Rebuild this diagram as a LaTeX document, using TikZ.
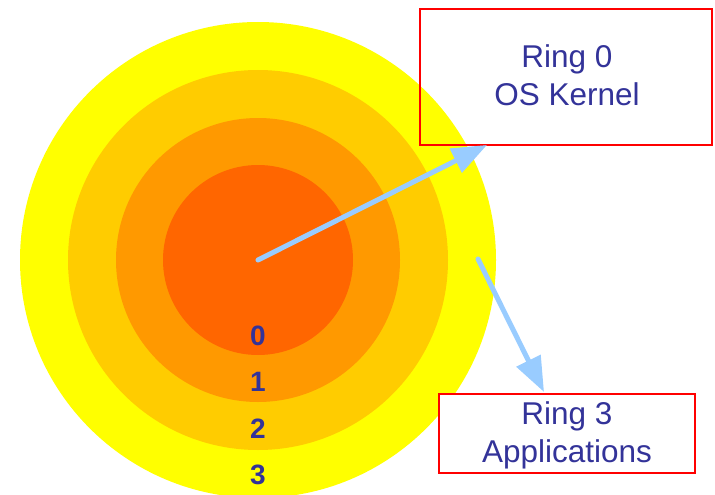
\documentclass[tikz,border=0pt]{standalone}
\usepackage{fontspec}
\setmainfont{Liberation Sans}
\usetikzlibrary{arrows.meta}
\definecolor{ringA}{HTML}{FFFF00}
\definecolor{ringB}{HTML}{FFCC00}
\definecolor{ringC}{HTML}{FF9900}
\definecolor{ringD}{HTML}{FF6600}
\definecolor{arrowblue}{HTML}{99CCFF}
\definecolor{textblue}{HTML}{333399}
\definecolor{boxred}{HTML}{FF0000}
\tikzset{
  ringnum/.style={text=textblue, font=\fontsize{28}{30}\selectfont\bfseries, anchor=base, inner sep=0pt},
  labeltext/.style={text=textblue, font=\fontsize{31.5}{38}\selectfont, anchor=base, inner sep=0pt},
  labelbox/.style={draw=boxred, line width=2pt},
  ptr/.style={draw=arrowblue, line width=5pt, line cap=round, -{Triangle[width=26pt,length=35pt]}}
}
\begin{document}
\begin{tikzpicture}[x=1pt,y=-1pt]
\useasboundingbox (0,0) rectangle (715,495);
\coordinate (c) at (258,260);
\fill[ringA] (c) circle[radius=238pt];
\fill[ringB] (c) circle[radius=190pt];
\fill[ringC] (c) circle[radius=142pt];
\fill[ringD] (c) circle[radius=95pt];
\node[ringnum] (n0) at (258,345) {0};
\node[ringnum] (n1) at (258,391) {1};
\node[ringnum] (n2) at (258,438) {2};
\node[ringnum] (n3) at (258,484) {3};
% boxes
\draw[labelbox] (420,9) rectangle (712,145);
\coordinate (b0) at (487,145);
\node[labeltext] (t0a) at (567,68) {Ring 0};
\node[labeltext] (t0b) at (567,106) {OS Kernel};
\draw[labelbox, fill=white] (439,394) rectangle (695,473);
\coordinate (b3) at (544,392);
\node[labeltext] (t3a) at (567,424) {Ring 3};
\node[labeltext] (t3b) at (567,462) {Applications};
% arrows
\coordinate (s3) at (478,259);
\draw[ptr] (c) -- (b0);
\draw[ptr] (s3) -- (b3);
\end{tikzpicture}
\end{document}
